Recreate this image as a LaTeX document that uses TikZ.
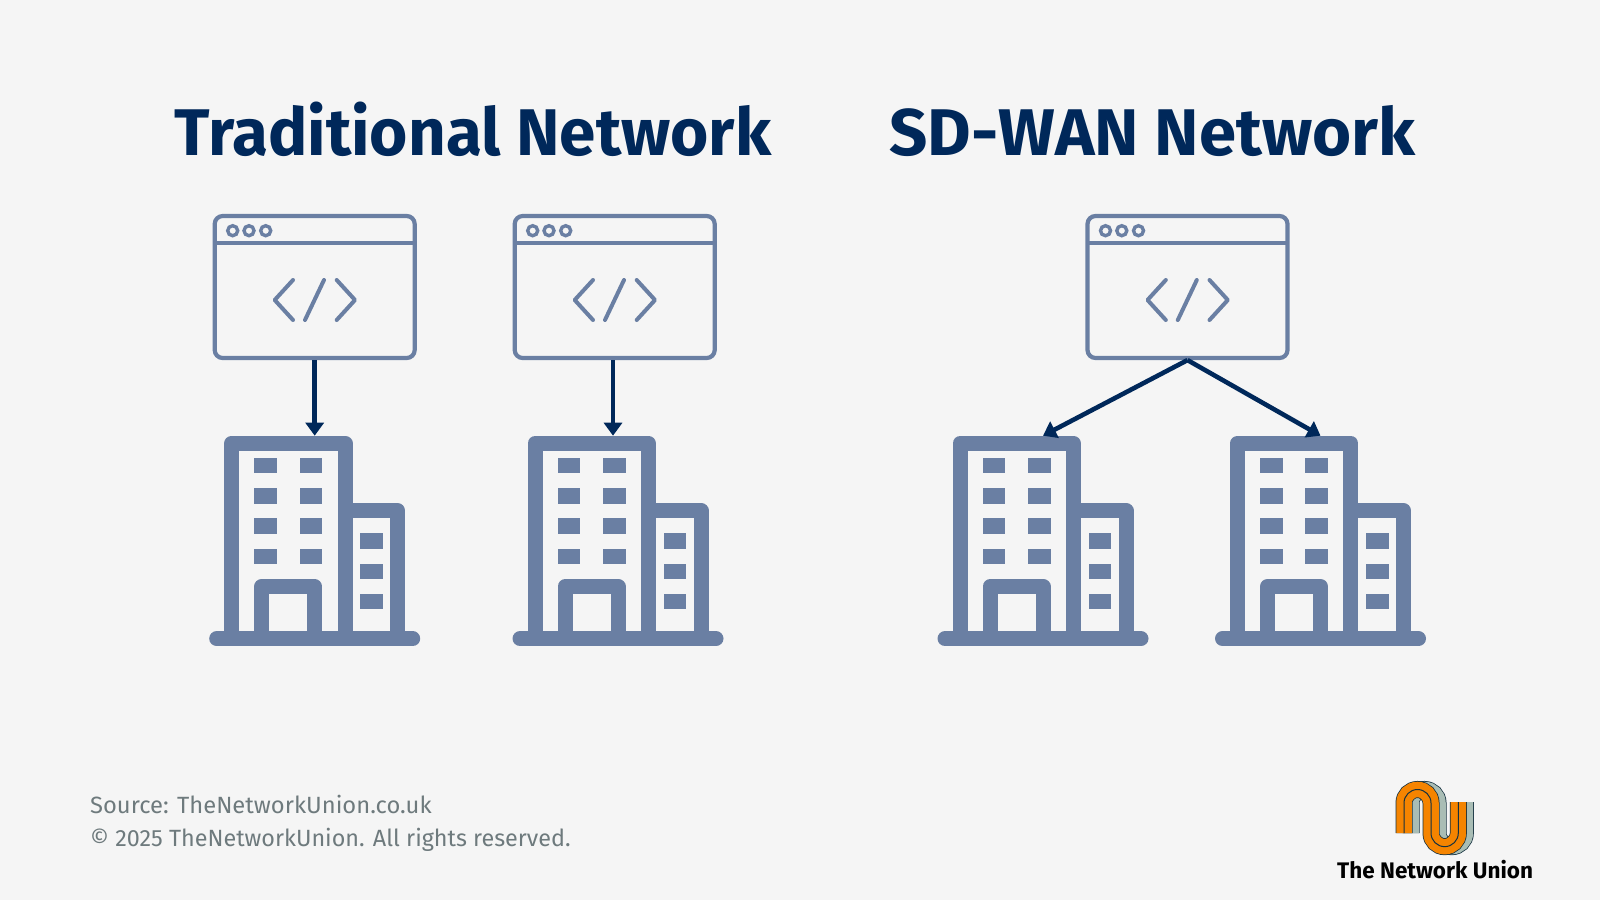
\documentclass[tikz,border=0pt]{standalone}
\usepackage{fontspec}
\setmainfont{Fira Sans}
\usetikzlibrary{arrows.meta}
\definecolor{pagebg}{HTML}{F5F5F5}
\definecolor{iconblue}{HTML}{6A7FA3}
\definecolor{navy}{HTML}{00285A}
\definecolor{footgray}{HTML}{6E7A7D}
\definecolor{logoorange}{HTML}{F58400}
\definecolor{logogray}{HTML}{A9BDB5}
\definecolor{logodark}{HTML}{14303F}
\tikzset{
  titletext/.style={anchor=base west, inner sep=0pt, text=navy, font=\fontsize{66}{66}\selectfont\bfseries, transform shape},
  foottext/.style={anchor=base west, inner sep=0pt, text=footgray, font=\fontsize{23.5}{23.5}\selectfont, transform shape},
  flow/.style={-{Triangle[length=13pt,width=18pt]}, navy, line width=4.6pt},
  appbox/.style={draw=iconblue, line width=4.2pt, rounded corners=8pt, minimum width=200pt, minimum height=142pt, inner sep=0pt},
  pics/appwin/.style={code={
    \node[appbox] (-box) at (0,0) {};
    \draw[iconblue, line width=4.2pt] (-100,-44.3) -- (100,-44.3);
    \foreach \dotx in {-82,-65.7,-49}
      \draw[iconblue, line width=3.4pt] (\dotx,-56.3) circle (5);
    \draw[iconblue, line width=4pt, line cap=round, line join=round]
      (-21.7,-7) -- (-40,13) -- (-21.7,33)
      (9.3,-7) -- (-9.7,33)
      (22,-7) -- (40.3,13) -- (22,33);
  }},
  pics/building/.style={code={
    \coordinate (-roof) at (0,0);
    \draw[iconblue, line width=15pt, line join=round]
      (-83,203) -- (-83,7.5) -- (30.3,7.5) -- (30.3,203)
      (30.3,75) -- (83,75) -- (83,203)
      (-53,203) -- (-53,150.8) -- (0,150.8) -- (0,203);
    \draw[iconblue, line width=15pt, line cap=round] (-98,203) -- (98,203);
    \foreach \wy in {22.3,52.6,82.6,113}
      \foreach \wx in {-60.5,-15.2}
        \fill[iconblue] (\wx,\wy) rectangle +(22.7,15.2);
    \foreach \wy in {97.6,128,158.3}
      \fill[iconblue] (45.5,\wy) rectangle +(22.7,15.2);
  }}
}
\newcommand{\logopath}[1]{(1404+#1,833) -- (1404+#1,803) arc[start angle=180,end angle=360,radius=13.5] -- (1431+#1,833) arc[start angle=180,end angle=0,radius=13.65] -- (1458.3+#1,802)}
\begin{document}
\begin{tikzpicture}[x=1pt,y=-1pt]
\useasboundingbox (0,0) rectangle (1600,900);
\fill[pagebg] (0,0) rectangle (1600,900);
% headings
\node[titletext, xscale=.994] (titletrad) at (174.5,155) {Traditional Network};
\node[titletext, xscale=1.015] (titlesd) at (889,155) {SD-WAN Network};
% windows and offices
\pic (app1) at (314.7,287) {appwin};
\pic (app2) at (614.7,287) {appwin};
\pic (app3) at (1187.5,287) {appwin};
\pic (bld1) at (314.7,435.7) {building};
\pic (bld2) at (618,435.7) {building};
\pic (bld3) at (1043,435.7) {building};
\pic (bld4) at (1320.5,435.7) {building};
\coordinate (tap2) at (613,360);
\coordinate (drop2) at (613,435.7);
% links
\path[flow]
(app1-box.south) edge (bld1-roof)
(tap2) edge (drop2)
(app3-box.south) edge (bld3-roof)
                 edge (bld4-roof);
% footer
\node[foottext, xscale=1.01] (source) at (90,813) {Source: TheNetworkUnion.co.uk};
\node[foottext, xscale=.994] (rights) at (90,846) {© 2025 TheNetworkUnion. All rights reserved.};
% logo
\draw[logodark, line width=17pt] \logopath{7};
\draw[logogray, line width=15.5pt] \logopath{7};
\draw[logodark, line width=17pt] \logopath{0};
\draw[logoorange, line width=15.5pt] \logopath{0};
\draw[logodark, line width=1pt] \logopath{0};
\node[anchor=base west, inner sep=0pt, font=\fontsize{22.5}{22.5}\selectfont\bfseries, text=black] (brand) at (1337,878) {The Network Union};
\end{tikzpicture}
\end{document}
